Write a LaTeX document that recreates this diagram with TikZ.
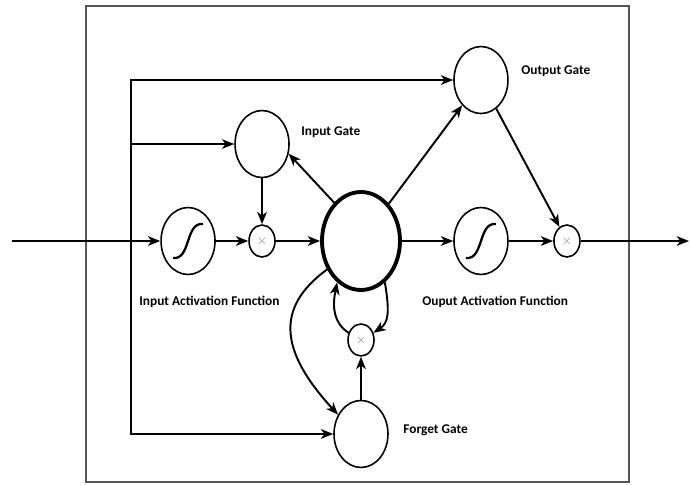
\documentclass[tikz,border=0pt]{standalone}
\usepackage{fontspec}
\setmainfont{Carlito}
\usepackage{tikz}
\definecolor{boxGrey}{HTML}{555555}
\definecolor{timesGrey}{HTML}{8A8A8A}
\usetikzlibrary{arrows.meta,shapes.geometric}
\tikzstyle{gate} = [ellipse, draw, line width=0.9pt, minimum width=1.08cm, minimum height=1.34cm, inner sep=0pt]
\tikzstyle{actblock} = [gate]
\tikzstyle{cellblock} = [ellipse, draw, line width=2.2pt, minimum width=1.56cm, minimum height=1.96cm, inner sep=0pt]
\tikzstyle{mulblock} = [ellipse, draw, line width=0.9pt, minimum width=0.52cm, minimum height=0.64cm, inner sep=0pt, text=timesGrey, font=\scriptsize]
\tikzstyle{line} = [line width=1.1pt, ->, >= {Stealth[length=7pt, width=5.5pt, inset=2pt]}]
\tikzstyle{sigline} = [line width=1.3pt]
\tikzstyle{noblock} = [rectangle, draw = none]
\tikzstyle{gatetext} = [inner sep=0pt, anchor=west, font=\bfseries\fontsize{7.6}{9}\selectfont]

\begin{document}
\begin{tikzpicture}[x=0.02cm, y=-0.02cm]
        \useasboundingbox (0,0) rectangle (690,484);
        \draw[boxGrey, line width=1.4pt] (86,6) rectangle (629,482);
        \node(cell) [cellblock] at (361,241) {};
        \node(inMul) [mulblock, left of = cell, node distance = 1.98cm] {$\times$};
        \node(inAct) [actblock, left of = inMul, node distance = 1.48cm] {};
        \node(inGate) [gate, above of = inMul, node distance = 1.94cm] {};
        \node(outAct) [actblock, right of = cell, node distance = 2.4cm] {};
        \node(outMul) [mulblock, right of = outAct, node distance = 1.72cm] {$\times$};
        \node(outGate) [gate, above of = outAct, node distance = 3.22cm] {};
        \node(fMul) [mulblock, below of = cell, node distance = 1.98cm] {$\times$};
        \node(fGate) [gate, below of = fMul, node distance = 1.88cm] {};
        \coordinate (inStart) at (12,241);
        \coordinate (busIn) at (131,241);
        \coordinate (outEnd) at (689,241);
        \node(inGateText) [noblock, gatetext] at (301,132) {Input Gate};
        \node(outGateText) [noblock, gatetext] at (521,71) {Output Gate};
        \node(inActText) [noblock, gatetext] at (139,302) {Input Activation Function};
        \node(outActText) [noblock, gatetext] at (422,302) {Ouput Activation Function};
        \node(fGateText) [noblock, gatetext] at (403,430) {Forget Gate};
        \draw[sigline] (inAct.center) ++(-15,17) .. controls +(18,2) and +(-18,-2) .. ++(30,-34);
        \draw[sigline] (outAct.center) ++(-15,17) .. controls +(18,2) and +(-18,-2) .. ++(30,-34);
        \draw[line] (inStart) -- (inAct);
        \draw[line] (inAct) -- (inMul);
        \draw[line] (inMul) -- (cell);
        \draw[line] (inGate) -- (inMul);
        \draw[line] (cell.125) -- (inGate.-20);
        \draw[line] (cell) -- (outGate);
        \draw[line] (cell) -- (outAct);
        \draw[line] (outAct) -- (outMul);
        \draw[line] (outGate) -- (outMul);
        \draw[line] (outMul) -- (outEnd);
        \draw[line] (busIn) |- (outGate);
        \draw[line] (busIn) |- (inGate);
        \draw[line] (busIn) |- (fGate);
        \draw[line] (fGate) -- (fMul);
        \draw[line] (cell.220) .. controls +(-55,40) and +(-55,-60) .. (fGate.140);
        \draw[line] (cell.300) .. controls +(5,30) and +(15,-10) .. (fMul.30);
        \draw[line] (fMul.150) .. controls +(-15,-10) and +(-5,25) .. (cell.240);
    \end{tikzpicture}
\end{document}
